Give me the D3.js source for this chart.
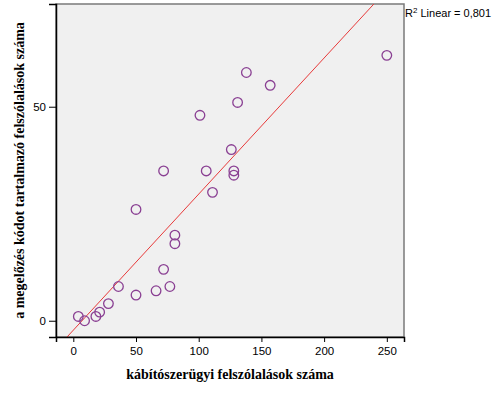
<!DOCTYPE html>
<html>
<head>
<meta charset="utf-8">
<script src="https://cdn.jsdelivr.net/npm/d3@7"></script>
<style>
  body { margin: 0; background: #fff; }
  text { font-family: "Liberation Sans", Arial, sans-serif; }
</style>
</head>
<body>
<svg></svg>
<script>
const width = 492;
const height = 394;

// kábítószerügyi felszólalások száma
const drugCounts = [250, 138, 157, 131, 101, 126, 106, 128, 128, 72, 111, 50, 81, 81, 72, 36, 77, 66, 50, 28, 21, 18, 4, 9];
// a megelőzés kódot tartalmazó felszólalások száma
const preventionCounts = [62, 58, 55, 51, 48, 40, 35, 35, 34, 35, 30, 26, 20, 18, 12, 8, 8, 7, 6, 4, 2, 1, 1, 0];
const xTicks = [0, 50, 100, 150, 200, 250];
const yTicks = [0, 50];
const r2Label = '0,801';

const margin = {left: 56, right: 88, top: 4, bottom: 57};
const plotW = width - margin.left - margin.right;
const plotH = height - margin.top - margin.bottom;

const svg = d3.select('svg').attr('width', width).attr('height', height);
const g = svg.append('g').attr('transform', `translate(${margin.left},${margin.top})`);

const x = d3.scaleLinear().domain([-13.8, 263.7]).range([0, plotW]);
const y = d3.scaleLinear().domain([-3.8, 74]).range([plotH, 0]);

g.append('rect')
    .attr('width', plotW).attr('height', plotH)
    .style('fill', '#f0f0f0')
    .style('stroke', '#7a7a7a')
    .style('stroke-width', 1.5);

svg.append('clipPath').attr('id', 'clip')
  .append('rect').attr('width', plotW).attr('height', plotH);

// least squares fit
const points = drugCounts.map((d, i) => [d, preventionCounts[i]]);
const mx = d3.mean(drugCounts), my = d3.mean(preventionCounts);
const sxy = d3.sum(points, p => (p[0] - mx) * (p[1] - my));
const sxx = d3.sum(points, p => (p[0] - mx) ** 2);
const slope = sxy / sxx;
const intercept = my - slope * mx;
const xs = x.domain();

g.append('line')
    .attr('clip-path', 'url(#clip)')
    .attr('x1', x(xs[0])).attr('y1', y(intercept + slope * xs[0]))
    .attr('x2', x(xs[1])).attr('y2', y(intercept + slope * xs[1]))
    .style('stroke', '#e83a3a')
    .style('stroke-width', 1);

g.selectAll('.dot')
    .data(points)
    .enter().append('circle')
    .attr('class', 'dot')
    .attr('cx', d => x(d[0]))
    .attr('cy', d => y(d[1]))
    .attr('r', 4.8)
    .style('fill', 'none')
    .style('stroke', '#8a4093')
    .style('stroke-width', 1.3);

// axes
const xAxis = g.append('g')
    .attr('transform', `translate(0,${plotH})`)
    .call(d3.axisBottom(x).tickValues(xTicks).tickSize(5).tickPadding(5));
const yAxis = g.append('g')
    .call(d3.axisLeft(y).tickValues(yTicks).tickSize(7).tickPadding(3));
[xAxis, yAxis].forEach(a => {
  a.select('.domain').style('stroke', '#000').style('stroke-width', 1.5);
  a.selectAll('text').style('font-family', '"Liberation Sans", Arial, sans-serif')
    .style('font-size', '11.5px').style('fill', '#000');
  a.selectAll('line').style('stroke', '#000');
});

svg.append('text')
    .attr('x', margin.left + plotW / 2).attr('y', 379)
    .attr('text-anchor', 'middle')
    .style('font-family', '"Liberation Serif", "Times New Roman", serif')
    .style('font-weight', 'bold').style('font-size', '14px')
    .text('kábítószerügyi felszólalások száma');

svg.append('text')
    .attr('transform', `translate(24,${margin.top + plotH / 2}) rotate(-90)`)
    .attr('text-anchor', 'middle')
    .style('font-family', '"Liberation Serif", "Times New Roman", serif')
    .style('font-weight', 'bold').style('font-size', '14px')
    .text('a megelőzés kódot tartalmazó felszólalások száma');

const r2 = svg.append('text')
    .attr('x', margin.left + plotW + 1).attr('y', 17)
    .style('font-size', '11px');
r2.append('tspan').text('R');
r2.append('tspan').attr('dy', -4).style('font-size', '8px').text('2');
r2.append('tspan').attr('dy', 4).text(' Linear = ' + r2Label);
</script>
</body>
</html>
